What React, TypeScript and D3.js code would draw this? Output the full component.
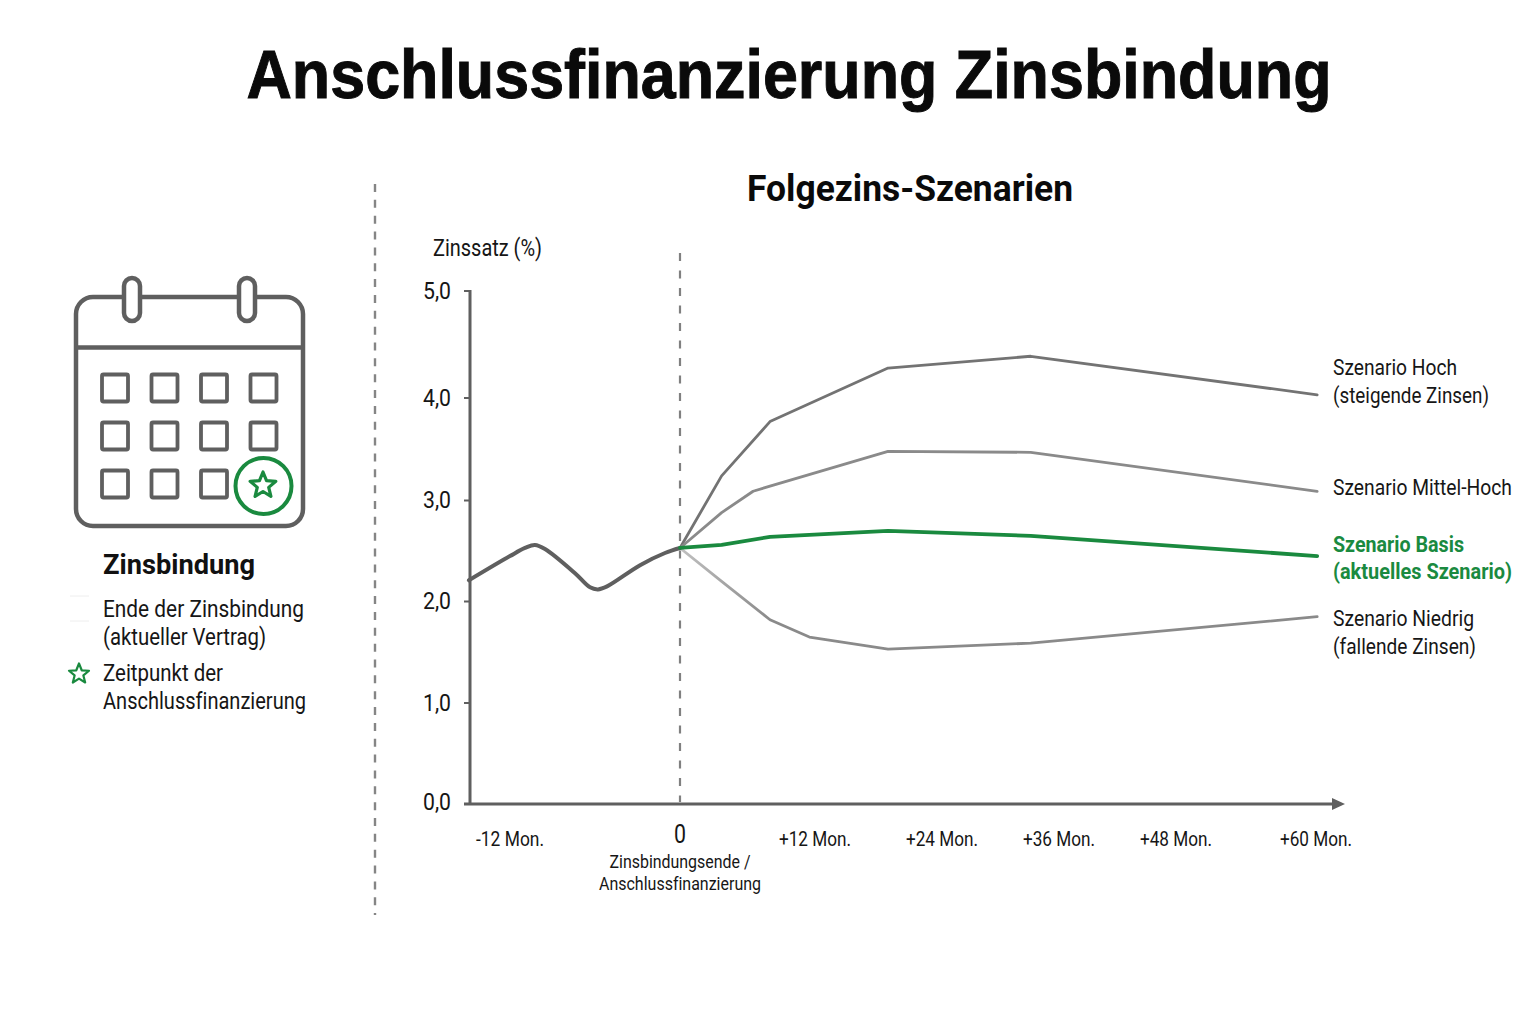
import React from "react";
import * as d3 from "d3";

const FONT = "Roboto, 'Liberation Sans', sans-serif";
const TITLE_FONT = "'Liberation Sans', Roboto, sans-serif";
const GREEN = "#1a8a3f";
const DARK = "#5f5f5f";

const yTicks = [0, 1, 2, 3, 4, 5];
const yTickLabels = ["0,0", "1,0", "2,0", "3,0", "4,0", "5,0"];
const xTickMonths = [-12, 0, 12, 24, 36, 48, 60];
const xTickLabels = ["-12 Mon.", "0", "+12 Mon.", "+24 Mon.", "+36 Mon.", "+48 Mon.", "+60 Mon."];

const historyMonths = [-14.9, -12, -10.94, -10.24, -9.53, -7.41, -6.35, -5.79, -5.15, -2.82, -1.06, 0];
const historyValues = [2.21, 2.45, 2.53, 2.56, 2.52, 2.28, 2.14, 2.12, 2.15, 2.36, 2.48, 2.53];

const hochMonths = [0, 3.7, 8, 18.9, 33.1, 60.1];
const hochValues = [2.53, 3.24, 3.77, 4.28, 4.39, 4.03];
const mittelMonths = [0, 3.7, 6.5, 8, 18.9, 33.1, 60.1];
const mittelValues = [2.53, 2.88, 3.09, 3.14, 3.48, 3.47, 3.09];
const basisMonths = [0, 3.7, 8, 18.9, 33.1, 60.1];
const basisValues = [2.53, 2.56, 2.64, 2.7, 2.65, 2.45];
const niedrigMonths = [0, 3.7, 8, 11.5, 18.9, 33.1, 60.1];
const niedrigValues = [2.53, 2.2, 1.82, 1.65, 1.53, 1.59, 1.85];

const calendarRows = [0, 1, 2];
const calendarCols = [0, 1, 2, 3];

const x = d3.scaleLinear().domain(xTickMonths).range([510, 680, 815, 942, 1059, 1176, 1316]);
const y = d3.scaleLinear().domain(yTicks).range([804, 703, 601.5, 500.5, 398, 291]);

const histLine = (ms: number[], vs: number[]) =>
  d3.line<number>().curve(d3.curveCatmullRom.alpha(0.5)).x((m) => x(m)).y((_, i) => y(vs[i]))(ms) as string;

const line = (ms: number[], vs: number[]) =>
  d3.line<number>().x((m) => x(m)).y((_, i) => y(vs[i]))(ms) as string;

function starPath(cx: number, cy: number, R: number, r: number) {
  const pts: [number, number][] = d3.range(10).map((i) => {
    const a = -Math.PI / 2 + (i * Math.PI) / 5;
    const rad = i % 2 === 0 ? R : r;
    return [cx + rad * Math.cos(a), cy + rad * Math.sin(a)];
  });
  return d3.line()(pts) + "Z";
}

function T(p: any) {
  return <text fontFamily={FONT} fill="#161616" style={{ fontVariantLigatures: "none" }} lengthAdjust="spacingAndGlyphs" {...p} />;
}

export default function App() {
  return (
    <svg width={1536} height={1024} style={{ position: "absolute", left: 0, top: 0, background: "#fff" }}>
      <defs>
        <linearGradient id="fadeLow" gradientUnits="userSpaceOnUse" x1={680} x2={770} y1={0} y2={0}>
          <stop offset="0" stopColor="#c0c0c0" />
          <stop offset="1" stopColor="#8a8a8a" />
        </linearGradient>
      </defs>

      <T x={789} y={98} fontFamily={TITLE_FONT} fontSize={69} fontWeight={700} textAnchor="middle" fill="#0a0a0a" stroke="#0a0a0a" strokeWidth={1} textLength={1085}>Anschlussfinanzierung Zinsbindung</T>
      <T x={910} y={201} fontSize={36} fontWeight={700} textAnchor="middle" fill="#0a0a0a" textLength={326}>Folgezins-Szenarien</T>

      <line x1={375} x2={375} y1={184} y2={915} stroke="#858585" strokeWidth={2.4} strokeDasharray="8 7.85" />

      {/* calendar */}
      <g fill="none" stroke={DARK} strokeWidth={4.5}>
        <rect x={76} y={297} width={227} height={229} rx={17} />
        <line x1={76} x2={303} y1={347.5} y2={347.5} />
        {calendarRows.map((r) =>
          calendarCols.map((c) =>
            r === 2 && c === 3 ? null : (
              <rect key={`${r}-${c}`} x={102 + c * 49.5} y={374.5 + r * 48} width={26} height={27} rx={1.5} strokeWidth={3.8} />
            )
          )
        )}
        <rect x={124} y={278} width={16} height={43} rx={8} fill="#fff" />
        <rect x={239} y={278} width={16} height={43} rx={8} fill="#fff" />
      </g>
      <circle cx={263.5} cy={486} r={28} fill="#fff" stroke={GREEN} strokeWidth={4} />
      <path d={starPath(263, 485.5, 13.5, 6)} fill="none" stroke={GREEN} strokeWidth={3.2} strokeLinejoin="round" />

      {/* legend */}
      <T x={103} y={574} fontSize={28} fontWeight={700} fill="#111" textLength={152}>Zinsbindung</T>
      <line x1={70} x2={89} y1={596} y2={596} stroke="#eee" />
      <line x1={70} x2={89} y1={621} y2={621} stroke="#eee" />
      <T x={103} y={617} fontSize={23} textLength={201}>Ende der Zinsbindung</T>
      <T x={103} y={645} fontSize={23} textLength={163}>(aktueller Vertrag)</T>
      <path d={starPath(79, 674, 10.5, 4.6)} fill="none" stroke={GREEN} strokeWidth={2.2} strokeLinejoin="round" />
      <T x={103} y={681} fontSize={23} textLength={120}>Zeitpunkt der</T>
      <T x={103} y={709} fontSize={23} textLength={203}>Anschlussfinanzierung</T>

      {/* axes */}
      <T x={433} y={256} fontSize={23} textLength={109}>Zinssatz (%)</T>
      <line x1={470} x2={470} y1={290} y2={804} stroke={DARK} strokeWidth={3} />
      {yTicks.map((v, i) => (
        <g key={v}>
          <line x1={464} x2={470} y1={y(v)} y2={y(v)} stroke={DARK} strokeWidth={2} />
          <T x={451} y={y(v) + (v === 0 ? 6 : 7.5)} fontSize={24.5} textAnchor="end" textLength={28}>{yTickLabels[i]}</T>
        </g>
      ))}
      <line x1={464} x2={1334} y1={804} y2={804} stroke={DARK} strokeWidth={3} />
      <path d="M1332,798 L1345,804 L1332,810 Z" fill={DARK} />
      <line x1={680} x2={680} y1={253} y2={802} stroke="#808080" strokeWidth={2.2} strokeDasharray="8 9.5" />
      {xTickMonths.map((m, i) =>
        m === 0 ? (
          <T key={m} x={x(m)} y={843} fontSize={25} textAnchor="middle" textLength={12}>{xTickLabels[i]}</T>
        ) : (
          <T key={m} x={x(m)} y={846} fontSize={20.5} textAnchor="middle" textLength={m < 0 ? 68 : 72}>{xTickLabels[i]}</T>
        )
      )}
      <T x={680} y={868} fontSize={18.5} textAnchor="middle" textLength={141}>Zinsbindungsende /</T>
      <T x={680} y={890} fontSize={18.5} textAnchor="middle" textLength={162}>Anschlussfinanzierung</T>

      {/* series */}
      <g fill="none" strokeLinejoin="round" strokeLinecap="round">
        <path d={line(hochMonths, hochValues)} stroke="#737373" strokeWidth={2.8} />
        <path d={line(mittelMonths, mittelValues)} stroke="#8a8a8a" strokeWidth={2.8} />
        <path d={line(niedrigMonths, niedrigValues)} stroke="url(#fadeLow)" strokeWidth={2.8} />
        <path d={histLine(historyMonths, historyValues)} stroke="#5f5f5f" strokeWidth={4} />
        <path d={line(basisMonths, basisValues)} stroke={GREEN} strokeWidth={3.8} />
      </g>

      {/* series labels */}
      <T x={1333} y={375} fontSize={22.5} textLength={124}>Szenario Hoch</T>
      <T x={1333} y={403} fontSize={22.5} textLength={156}>(steigende Zinsen)</T>
      <g transform="translate(1333,495) scale(0.88,1)">
        <T x={0} y={0} fontSize={22.5} textLength={203.4}>Szenario Mittel-Hoch</T>
      </g>
      <T x={1333} y={552} fontSize={22.5} fontWeight={700} fill={GREEN} textLength={131}>Szenario Basis</T>
      <T x={1333} y={579} fontSize={22.5} fontWeight={700} fill={GREEN} textLength={179}>(aktuelles Szenario)</T>
      <T x={1333} y={626} fontSize={22.5} textLength={141}>Szenario Niedrig</T>
      <T x={1333} y={654} fontSize={22.5} textLength={143}>(fallende Zinsen)</T>
    </svg>
  );
}
